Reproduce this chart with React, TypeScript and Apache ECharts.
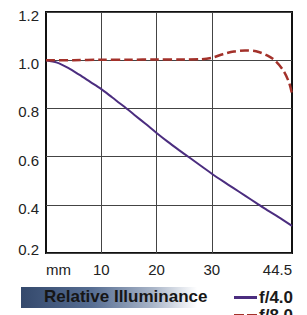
import React, { useEffect, useRef } from "react";
import * as echarts from "echarts";

const xF4 = [0, 2, 4, 6, 8, 10, 12, 14, 16, 18, 20, 22, 24, 26, 28, 30, 32, 34, 36, 38, 40, 42, 44.5];
const yF4 = [1.0, 0.99, 0.968, 0.94, 0.91, 0.88, 0.845, 0.81, 0.773, 0.736, 0.698, 0.662, 0.628, 0.595, 0.562, 0.529, 0.498, 0.468, 0.438, 0.408, 0.378, 0.35, 0.3125];
const xF8 = [0, 5, 10, 15, 20, 25, 28, 30, 32, 34, 36, 38, 40, 41.5, 43, 44, 44.5];
const yF8 = [1.0, 1.0, 1.002, 1.002, 1.003, 1.003, 1.004, 1.01, 1.025, 1.036, 1.04, 1.037, 1.02, 0.997, 0.955, 0.905, 0.86];
const xGridValues = [10, 20, 30];
const xLabelValues = [0, 10, 20, 30, 44.5];
const seriesNames = ["f/4.0", "f/8.0"];
const title = "Relative Illuminance";

export default function App() {
  const ref = useRef<HTMLDivElement>(null);
  useEffect(() => {
    if (!ref.current) return;
    const chart = echarts.init(ref.current, undefined, { renderer: "svg" });
    const font = "'Liberation Sans Narrow', 'Liberation Sans', Arial, sans-serif";
    const boldFont = "'Liberation Sans', Arial, sans-serif";
    const legendText = { fontFamily: font, fontSize: 17, fontWeight: "bold", color: "#1a1a1a", padding: [0, 0, 0, -3] };
    chart.setOption({
      animation: false,
      backgroundColor: "#ffffff",
      grid: {
        left: 46,
        right: 15,
        top: 12,
        bottom: 62,
        show: true,
        borderColor: "#111",
        borderWidth: 2,
        backgroundColor: "transparent",
      },
      xAxis: {
        type: "value",
        min: 0,
        max: 44.5,
        interval: 10,
        axisLine: { show: false },
        axisTick: { show: false },
        splitLine: { show: false },
        axisLabel: {
          customValues: xLabelValues,
          formatter: (v: number) => (v === 0 ? "mm" : String(v)),
          fontFamily: font,
          fontSize: 15,
          color: "#222",
          margin: 9,
          alignMinLabel: "left",
          alignMaxLabel: "right",
        },
      },
      yAxis: {
        type: "value",
        min: 0.2,
        max: 1.2,
        interval: 0.2,
        axisLine: { show: false },
        axisTick: { show: false },
        splitLine: { show: true, lineStyle: { color: "#444", width: 1 } },
        axisLabel: {
          formatter: (v: number) => (v < 0.3 ? `{b|${v.toFixed(1)}}` : `{a|${v.toFixed(1)}}`),
          fontFamily: font,
          fontSize: 15,
          color: "#222",
          margin: 7,
          rich: {
            a: { fontFamily: font, fontSize: 15, color: "#222", padding: [7, 0, 0, 0] },
            b: { fontFamily: font, fontSize: 15, color: "#222", padding: [0, 0, 8, 0] },
          },
        },
      },
      legend: [
        {
          orient: "horizontal",
          left: 234,
          top: 289,
          itemWidth: 23,
          itemHeight: 14,
          padding: 0,
          textStyle: legendText,
          data: [{ name: seriesNames[0], icon: "path://M0,0L23,0L23,3L0,3Z", itemStyle: { color: "#4b2d7f" } }],
        },
        {
          orient: "horizontal",
          left: 234,
          top: 307,
          itemWidth: 23,
          itemHeight: 14,
          padding: 0,
          textStyle: legendText,
          data: [
            { name: seriesNames[1], icon: "path://M0,0L10,0L10,3L0,3Z M13,0L23,0L23,3L13,3Z", itemStyle: { color: "#a3312a" } },
          ],
        },
      ],
      graphic: [
        {
          type: "rect",
          left: 21,
          top: 287,
          shape: { width: 176, height: 21 },
          style: {
            fill: new echarts.graphic.LinearGradient(0, 0, 1, 0, [
              { offset: 0, color: "#34496c" },
              { offset: 0.4, color: "#566d92" },
              { offset: 0.75, color: "#a9b5c8" },
              { offset: 1, color: "#ffffff" },
            ]),
          },
          z: 1,
        },
        {
          type: "text",
          left: 44,
          top: 288,
          style: {
            text: title,
            font: `bold 17px ${boldFont}`,
            fill: "#161616",
          },
          z: 2,
        },
      ],
      series: [
        {
          name: seriesNames[0],
          type: "line",
          smooth: 0.3,
          symbol: "none",
          data: xF4.map((x, i) => [x, yF4[i]]),
          lineStyle: { color: "#4b2d7f", width: 2 },
          itemStyle: { color: "#4b2d7f" },
          z: 3,
          markLine: {
            silent: true,
            symbol: "none",
            label: { show: false },
            lineStyle: { color: "#444", width: 1, type: "solid" },
            data: xGridValues.map((v) => ({ xAxis: v })),
            z: 1,
          },
        },
        {
          name: seriesNames[1],
          type: "line",
          smooth: 0.3,
          symbol: "none",
          data: xF8.map((x, i) => [x, yF8[i]]),
          lineStyle: { color: "#a3312a", width: 2.5, type: [9, 4] },
          itemStyle: { color: "#a3312a" },
          z: 4,
        },
      ],
    });
    return () => chart.dispose();
  }, []);
  return <div ref={ref} style={{ width: 307, height: 315, position: "absolute", left: 0, top: 0 }} />;
}
